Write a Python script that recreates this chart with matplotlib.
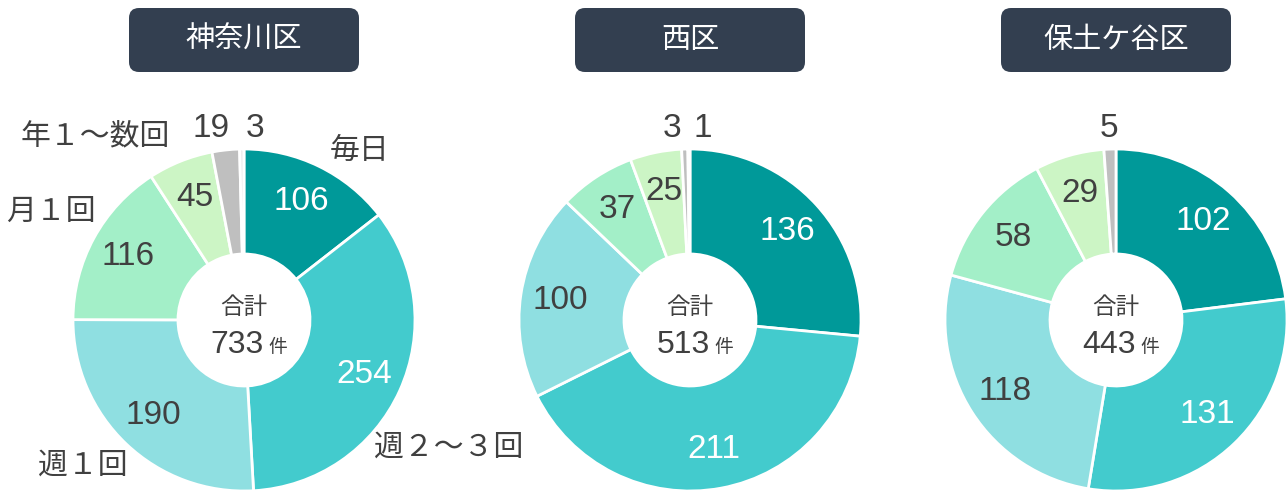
import numpy as np
import matplotlib
matplotlib.use("Agg")
import matplotlib.pyplot as plt
from matplotlib.patches import FancyBboxPatch

plt.rcParams['font.family'] = ['Noto Sans CJK JP', 'DejaVu Sans']

# ---------------- data ----------------
districts = ["神奈川区", "西区", "保土ケ谷区"]
categories = ["毎日", "週２～３回", "週１回", "月１回", "年１～数回", "その他", "無回答"]
kanagawa = [106, 254, 190, 116, 45, 19, 3]
nishi = [136, 211, 100, 37, 25, 3, 1]
hodogaya = [102, 131, 118, 58, 29, 5, 0]
series = [kanagawa, nishi, hodogaya]
colors = ["#009999", "#43CBCD", "#8FDFE1", "#A3EFC8", "#CCF5C5", "#BFBFBF", "#EDEDED"]
value_text_colors = ["white", "white", "#404040", "#404040", "#404040", "#404040", "#404040"]

# ---------------- layout (pixels) ----------------
W, H = 1287, 493
centers_px = [(244, 320), (690, 320), (1116, 320)]
R = 171
R_IN = 66
box_w, box_h = 230, 64
box_top = 8
DARK = "#404040"

fig = plt.figure(figsize=(W / 100, H / 100), dpi=100)
ax = fig.add_axes([0, 0, 1, 1])
ax.set_xlim(0, W)
ax.set_ylim(0, H)
ax.set_aspect('equal')
ax.axis('off')

num_font = ['Liberation Sans', 'Noto Sans CJK JP']

for k, (name, vals) in enumerate(zip(districts, series)):
    cx, cyp = centers_px[k]
    cy = H - cyp
    vals_arr = np.array(vals, dtype=float)
    keep = vals_arr > 0
    v = vals_arr[keep]
    c = [col for col, kk in zip(colors, keep) if kk]
    ax.pie(v, colors=c, startangle=90, counterclock=False, center=(cx, cy),
           radius=R, wedgeprops=dict(width=R - R_IN, edgecolor='white', linewidth=2.0),
           frame=True)

    # title box
    bx = cx - box_w / 2
    by = H - box_top - box_h
    ax.add_patch(FancyBboxPatch((bx + 10, by + 10), box_w - 20, box_h - 20,
                                boxstyle="round,pad=10", fc="#333F50", ec="none"))
    ax.text(cx, by + box_h / 2, name, color='white', fontsize=21,
            ha='center', va='center')

    # value labels
    total = vals_arr.sum()
    start = 90.0
    small = []
    for i, val in enumerate(vals):
        if val <= 0:
            continue
        span = val / total * 360
        mid = np.deg2rad(start - span / 2)
        start -= span
        if val / total < 0.04:
            small.append((i, val, mid))
            continue
        r = 0.77 * R
        ax.text(cx + r * np.cos(mid), cy + r * np.sin(mid), str(val),
                color=value_text_colors[i], fontsize=24, family=num_font,
                ha='center', va='center')
    # small slices: labelled just above the ring
    nudges = [-0.07, 0.08] if len(small) == 2 else [0.0]
    for (i, val, mid), nd in zip(small, nudges):
        x = cx + 1.12 * R * np.cos(mid) + nd * R
        y = cy + 1.12 * R
        ax.text(x, y, str(val), color=DARK, fontsize=24, family=num_font,
                ha='center', va='center')

    # center total
    ax.text(cx, cy + 12, "合計", color=DARK, fontsize=17, ha='center', va='center')
    ax.text(cx + 20, cy - 33, f"{int(total)}", color=DARK, fontsize=23,
            family=num_font, ha='right', va='baseline')
    ax.text(cx + 24, cy - 33, "件", color=DARK, fontsize=13.5, ha='left', va='baseline')

# category labels (first chart only)
cx0, cy0p = centers_px[0]
cat_offsets = [(116, 170), (205, -127), (-161, -145), (-193, 109), (-149, 184)]
for name, (dx, dy) in zip(categories[:5], cat_offsets):
    ax.text(cx0 + dx, (H - cy0p) + dy, name, color=DARK, fontsize=21.5,
            ha='center', va='center')

fig.savefig("out.png", dpi=100)
